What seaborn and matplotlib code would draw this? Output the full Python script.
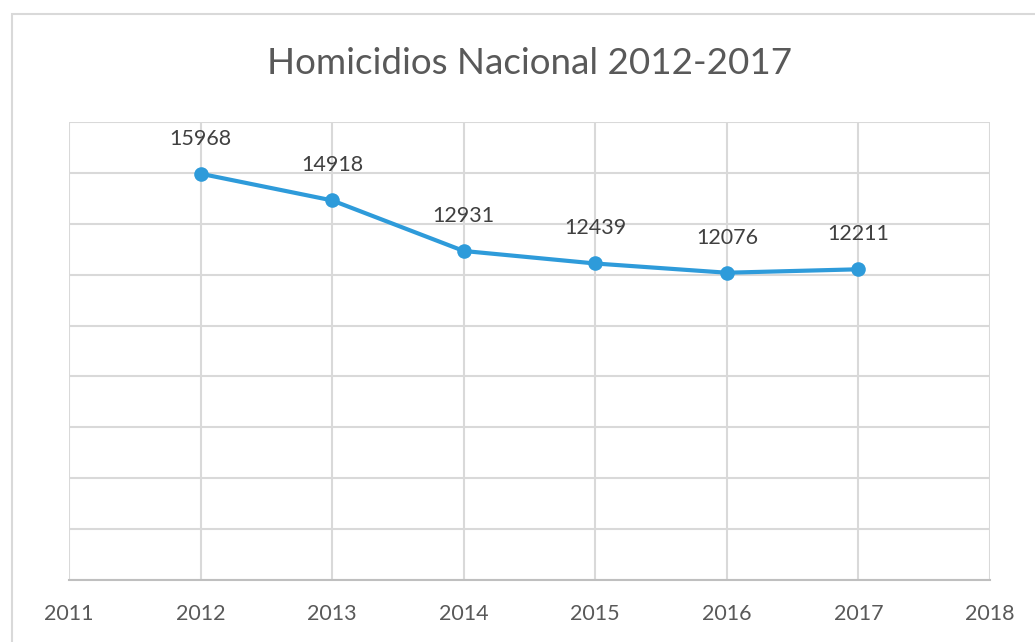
import numpy as np
import pandas as pd
import seaborn as sns
import matplotlib.pyplot as plt
from matplotlib.patches import Rectangle

# --- DATA ---
years = [2012, 2013, 2014, 2015, 2016, 2017]
homicidios = [15968, 14918, 12931, 12439, 12076, 12211]
x_ticks = [2011, 2012, 2013, 2014, 2015, 2016, 2017, 2018]
y_ticks = list(range(0, 18001, 2000))
title = "Homicidios Nacional 2012-2017"

df = pd.DataFrame({"year": years, "homicidios": homicidios})

# --- STYLE ---
sns.set_style("white")
plt.rcParams["font.family"] = ["Lato", "DejaVu Sans"]

line_color = "#2E9BDA"
grid_color = "#D9D9D9"
text_color = "#595959"

fig = plt.figure(figsize=(10.35, 6.42), dpi=100)
ax = fig.add_axes([69 / 1035, 1 - 580 / 642, (990 - 69) / 1035, (580 - 122) / 642])

sns.lineplot(data=df, x="year", y="homicidios", ax=ax, color=line_color,
             linewidth=3, marker="o", markersize=10.5, markeredgewidth=0)

# data labels above each point
for x, y in zip(years, homicidios):
    ax.annotate(f"{y}", (x, y), xytext=(0, 18), textcoords="offset points",
                ha="center", va="bottom", fontsize=15.5, color="#404040")

ax.set_xlim(x_ticks[0], x_ticks[-1])
ax.set_ylim(y_ticks[0], y_ticks[-1])
ax.set_xticks(x_ticks)
ax.set_yticks(y_ticks)
ax.set_yticklabels([])
ax.set_xlabel("")
ax.set_ylabel("")
ax.tick_params(axis="both", length=0)
ax.tick_params(axis="x", pad=17, labelsize=15.5, labelcolor=text_color)

ax.grid(True, color=grid_color, linewidth=1.5)
ax.set_axisbelow(True)
for side in ["top", "left", "right"]:
    ax.spines[side].set_visible(False)
ax.spines["bottom"].set_color("#BFBFBF")
ax.spines["bottom"].set_linewidth(1.5)

fig.text(530 / 1035, 1 - 63 / 642, title, ha="center", va="center",
         fontsize=26.5, color=text_color)

# chart frame
fig.add_artist(Rectangle((12 / 1035, -0.05), 1.1, 1 - 14 / 642 + 0.05,
                         transform=fig.transFigure, fill=False,
                         edgecolor="#D9D9D9", linewidth=1.5))

fig.savefig("out.png", dpi=100)
